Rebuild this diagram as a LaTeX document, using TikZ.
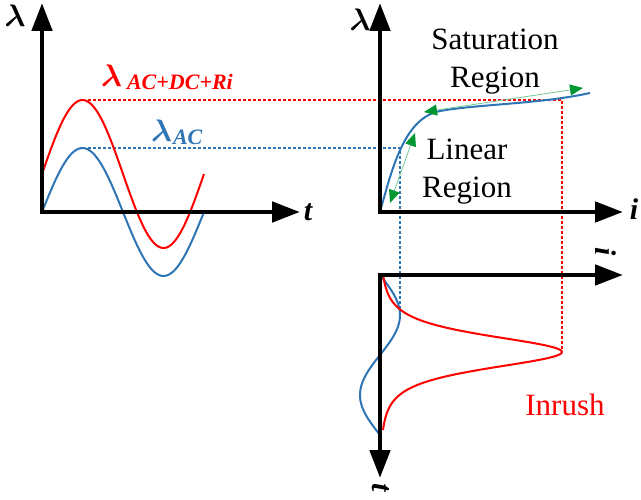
\documentclass[tikz,border=0pt]{standalone}
\usepackage{fontspec}
\setmainfont{Liberation Serif}
\usetikzlibrary{arrows.meta}
\definecolor{curveblue}{RGB}{46,117,182}
\definecolor{headgreen}{RGB}{0,150,50}
\definecolor{linegreen}{RGB}{110,200,150}
\newcommand{\lam}{\scalebox{1.25}{\fontsize{24.88}{25}\selectfont\boldmath$\lambda$}}

\begin{document}
\begin{tikzpicture}[x=1pt,y=-1pt,
  axis/.style={line width=4.8pt,line join=miter,{Triangle[length=28pt,width=20pt]}-{Triangle[length=28pt,width=20pt]}},
  redcurve/.style={red,line width=2pt},
  bluecurve/.style={curveblue,line width=2pt},
  guide/.style={line width=1.8pt,dash pattern=on 3pt off 2pt},
  regionarrow/.style={linegreen,line width=0.8pt,{Triangle[length=13pt,width=11pt,color=headgreen]}-{Triangle[length=13pt,width=11pt,color=headgreen]}},
  axlabel/.style={font=\fontsize{30}{30}\selectfont\bfseries\itshape,inner sep=0pt},
  regiontext/.style={font=\fontsize{31}{38}\selectfont,align=center,inner sep=0pt}]
\useasboundingbox (0,0) rectangle (641,500);

% Axis corners and tips
\coordinate (lo) at (42,212);
\coordinate (ly) at (42,3);
\coordinate (lx) at (300,212);
\coordinate (ro) at (380,212);
\coordinate (ry) at (380,3);
\coordinate (rx) at (623,212);
\coordinate (bo) at (380,275);
\coordinate (bx) at (623,275);
\coordinate (bt) at (380,478);

% Guide lines between the plots
\coordinate (redpk) at (88,100);
\coordinate (redsat) at (562,100);
\coordinate (redin) at (562,352);
\coordinate (bluepk) at (88,148);
\coordinate (bluelin) at (400,148);
\coordinate (blueim) at (400,315);
\draw[guide,red] (redpk) -- (redsat) -- (redin);
\draw[guide,curveblue] (bluepk) -- (bluelin) -- (blueim);

% Flux waveforms
\draw[bluecurve] plot[domain=42:204,samples=80] (\x,{212-64*sin((\x-42)*2.2222)});
\draw[redcurve] plot[domain=42:204,samples=80] (\x,{174-74*sin((\x-42)*2.2222)});

% Magnetising curve
\draw[bluecurve] (ro) .. controls (393,165) and (405,118) .. (440,111)
  .. controls (480,104) and (540,104) .. (590,93);

% Region arrows
\coordinate (lin1) at (390,203);
\coordinate (lin2) at (415,133);
\coordinate (sat1) at (424,112);
\coordinate (sat2) at (583,88);
\draw[regionarrow] (lin1) -- (lin2);
\draw[regionarrow] (sat1) -- (sat2);

% Currents
\draw[bluecurve] plot[domain=275:435,samples=80] ({380+20*sin((\x-275)*2.25)},\x);
\draw[redcurve] plot[domain=275:430,samples=120]
  ({380+182/((1+((\x-352)/30)*((\x-352)/30))*(1+((\x-352)/30)*((\x-352)/30)))},\x);

% Axes
\draw[axis] (ly) -- (lo) -- (lx);
\draw[axis] (ry) -- (ro) -- (rx);
\draw[axis] (bx) -- (bo) -- (bt);

% Labels
\node[inner sep=0pt] (lamL) at (15,16) {\lam};
\node[axlabel] (tL) at (308,212) {t};
\node[inner sep=0pt] (lamR) at (360,20) {\lam};
\node[axlabel] (iR) at (634,209) {i};
\node[axlabel,rotate=-90] (iB) at (606,252) {i};
\node[axlabel,rotate=-90] (tB) at (381,488) {t};

\node[red,anchor=base west,inner sep=0pt] (lamACDC) at (101,87)
  {\lam\hspace{5pt}\raisebox{-3pt}{\fontsize{22}{22}\selectfont\bfseries\itshape AC+DC+Ri}};
\node[curveblue,anchor=base west,inner sep=0pt] (lamAC) at (151,142)
  {\lam\hspace{1pt}\raisebox{-3pt}{\fontsize{22}{22}\selectfont\bfseries\itshape AC}};

\node[regiontext] (satreg) at (495,62) {Saturation\\Region};
\node[regiontext] (linreg) at (467,172) {Linear\\Region};
\node[regiontext,red] (inrush) at (565,405) {Inrush};
\end{tikzpicture}
\end{document}
